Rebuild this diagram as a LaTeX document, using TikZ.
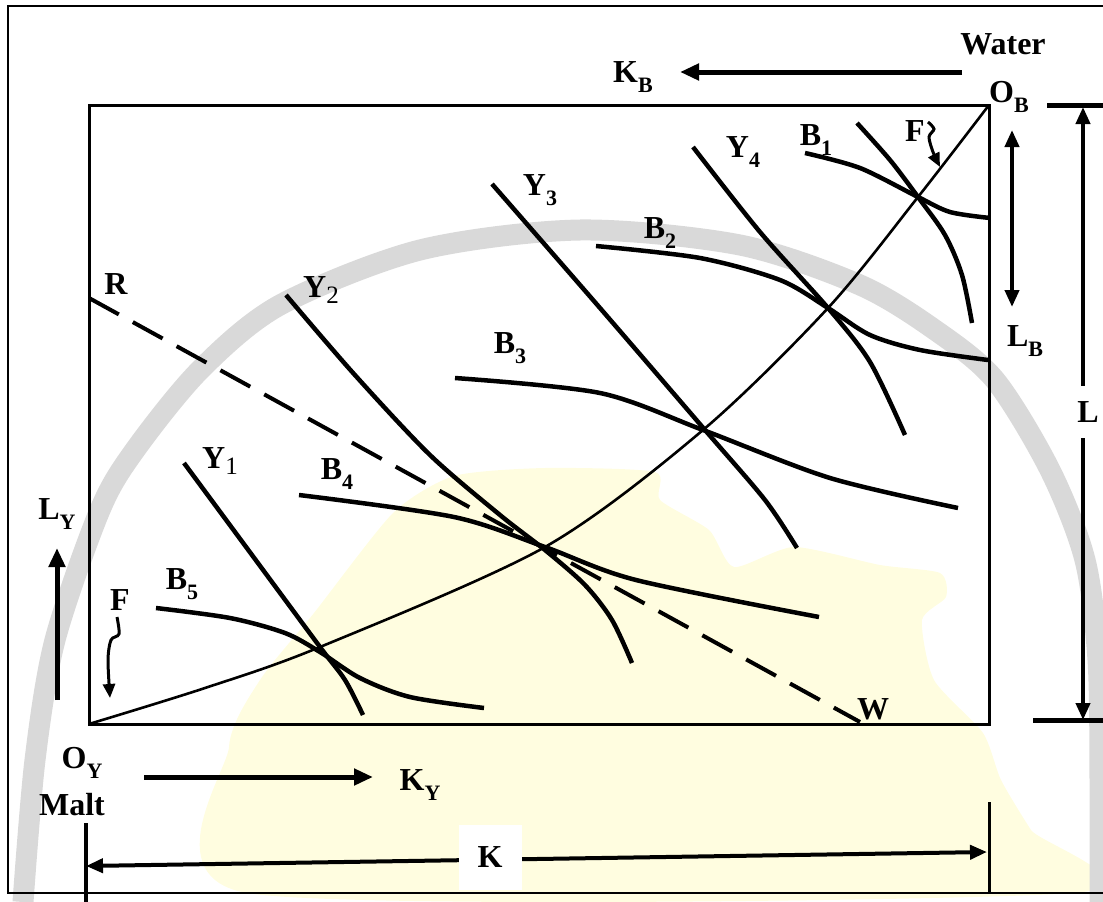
\documentclass[tikz,border=0pt]{standalone}
\usepackage{fontspec}
\setmainfont{Liberation Serif}
\usetikzlibrary{arrows.meta}
\definecolor{ringgray}{HTML}{D9D9D9}
\definecolor{mapyellow}{HTML}{FFFDE0}
\newcommand{\lsub}[1]{\raisebox{-0.3em}{\fontsize{22}{22}\selectfont #1}}
\newcommand{\lsubm}[1]{\raisebox{-0.2em}{\fontsize{25}{25}\selectfont\mdseries #1}}

\begin{document}
\begin{tikzpicture}[x=1pt, y=-1pt,
  lbl/.style={font=\fontsize{32}{36}\selectfont\bfseries, inner sep=0pt},
  frame/.style={line width=2pt},
  box/.style={line width=3pt},
  curve/.style={line width=4.5pt},
  locus/.style={line width=2.6pt},
  ray/.style={line width=4pt, dash pattern=on 34pt off 16pt},
  dir/.style={line width=5pt, -{Triangle[length=19pt, width=16pt]}},
  dim/.style={line width=4pt, {Triangle[length=17pt, width=14pt]}-{Triangle[length=17pt, width=14pt]}},
  bar/.style={line width=5pt},
  wiggle/.style={line width=3pt, -{Triangle[length=14pt, width=12pt]}},
]
\useasboundingbox (0,0) rectangle (1103,902);

% watermark
\fill[mapyellow] plot[smooth cycle, tension=0.4] coordinates {(247,893) (229,747) (260,680)
  (314,613) (393,513) (454,476) (545,468) (655,472) (660,500) (709,530) (734,567) (794,547)
  (880,565) (940,573) (946,597) (922,620) (934,680) (983,733) (1001,780) (1031,830) (1074,893)};
\draw[ringgray, line width=21pt] plot[smooth] coordinates {(23,902) (35,760) (55,640) (100,510)
  (135,450) (200,370) (280,305) (420,250) (580,230) (740,245) (860,285) (935,330) (995,380)
  (1050,470) (1085,560) (1098,660) (1100,780) (1100,902)};

% outer frame
\coordinate (fTR) at (1103,6);
\coordinate (fTL) at (8,6);
\coordinate (fBL) at (8,893);
\coordinate (fBR) at (1103,893);
\draw[frame] (fTR) -- (fTL) -- (fBL) -- (fBR);

% box
\coordinate (OY) at (89,724);
\coordinate (OB) at (989,105);
\draw[box] (OY) rectangle (OB);

% contract curve
\draw[locus] plot[smooth] coordinates {(89,724) (205,688) (320,647) (545,547) (703,430)
  (828,308) (918,197) (989,105)};

% price line
\coordinate (R) at (89,298);
\coordinate (W) at (860,722);
\draw[ray] (R) -- (W);

% Y isoquants
\draw[curve] plot[smooth] coordinates {(184,463) (252,555) (320,647) (345,680) (363,715)};
\draw[curve] plot[smooth] coordinates {(286,295) (354,374) (430,455) (500,515) (545,550)
  (585,585) (612,620) (632,663)};
\draw[curve] plot[smooth] coordinates {(492,184) (600,308) (705,430) (765,500) (797,548)};
\draw[curve] plot[smooth] coordinates {(693,147) (760,232) (828,308) (870,362) (905,435)};
\draw[curve] plot[smooth] coordinates {(857,123) (890,160) (918,197) (945,235) (962,275) (972,323)};

% B isoquants
\draw[curve] plot[smooth] coordinates {(156,608) (230,618) (285,633) (320,652) (360,678)
  (410,697) (484,708)};
\draw[curve] plot[smooth] coordinates {(299,495) (454,517) (545,547) (636,580) (819,617)};
\draw[curve] plot[smooth] coordinates {(455,378) (600,393) (703,430) (830,478) (958,508)};
\draw[curve] plot[smooth] coordinates {(596,246) (700,258) (780,280) (828,308) (870,335)
  (920,350) (988,360)};
\draw[curve] plot[smooth] coordinates {(805,153) (860,168) (918,197) (950,212) (990,218)};

% curve labels
\node[lbl] (Y1) at (220,461) {Y\lsubm{1}};
\node[lbl] (Y2) at (321,290) {Y\lsubm{2}};
\node[lbl] (Y3) at (540,190) {Y\lsub{3}};
\node[lbl] (Y4) at (743,152) {Y\lsub{4}};
\node[lbl] (B1) at (816,140) {B\lsub{1}};
\node[lbl] (B2) at (660,233) {B\lsub{2}};
\node[lbl] (B3) at (510,348) {B\lsub{3}};
\node[lbl] (B4) at (337,474) {B\lsub{4}};
\node[lbl] (B5) at (182,584) {B\lsub{5}};
\node[lbl] (Rlab) at (116,284) {R};
\node[lbl] (Wlab) at (873,709) {W};

% F markers
\node[lbl] (Ftop) at (915,131) {F};
\node[lbl] (Fbot) at (120,600) {F};
\draw[wiggle] plot[smooth] coordinates {(928,122) (934,129) (929,137) (933,152) (940,167)};
\draw[wiggle] plot[smooth] coordinates {(117,617) (119,634) (111,640) (108,660) (110,698)};

% origins and directions
\node[lbl] (water) at (1003,44) {Water};
\node[lbl] (OBlab) at (1009,97) {O\lsub{B}};
\node[lbl] (KB) at (633,77) {K\lsub{B}};
\node[lbl] (LB) at (1025,341) {L\lsub{B}};
\node[lbl] (LY) at (57,514) {L\lsub{Y}};
\node[lbl] (OYlab) at (82,763) {O\lsub{Y}};
\node[lbl] (malt) at (72,805) {Malt};
\node[lbl] (KY) at (420,785) {K\lsub{Y}};

\coordinate (kbS) at (962,72);
\coordinate (kbE) at (680,72);
\draw[dir] (kbS) -- (kbE);
\coordinate (kyS) at (144,777);
\coordinate (kyE) at (373,777);
\draw[dir] (kyS) -- (kyE);
\coordinate (lyS) at (57,700);
\coordinate (lyE) at (57,548);
\draw[dir] (lyS) -- (lyE);
\coordinate (lbT) at (1012,130);
\coordinate (lbB) at (1012,307);
\draw[dim] (lbT) -- (lbB);

% dimension L
\coordinate (lT) at (1083,107);
\coordinate (lB) at (1083,720);
\draw[bar] (1047,105) -- (1103,105);
\draw[bar] (1033,720) -- (1103,720);
\draw[dim] (lT) -- (lB);
\node[lbl, fill=white, minimum width=30pt, minimum height=52pt] (L) at (1088,412) {L};

% dimension K
\coordinate (kL) at (86,866);
\coordinate (kR) at (987,852);
\draw[line width=4pt] (86,823) -- (86,902);
\draw[line width=3pt] (989,802) -- (989,892);
\draw[dim] (kL) -- (kR);
\node[lbl, fill=white, minimum width=63pt, minimum height=65pt] (K) at (490,857) {K};
\end{tikzpicture}
\end{document}
